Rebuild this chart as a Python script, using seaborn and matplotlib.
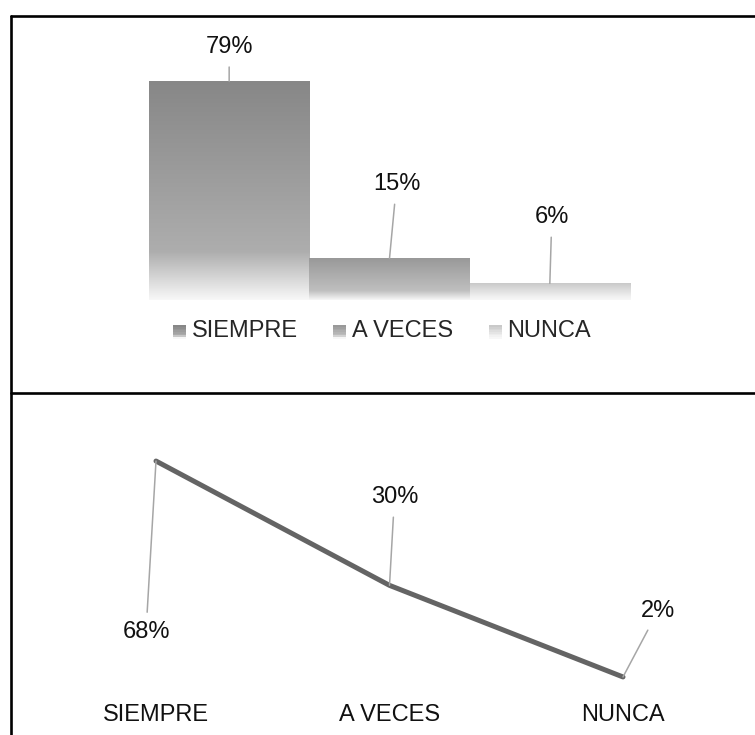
import numpy as np
import pandas as pd
import matplotlib
matplotlib.use("Agg")
import matplotlib.pyplot as plt
from matplotlib.lines import Line2D
from matplotlib.patches import Rectangle
from matplotlib.legend_handler import HandlerBase
import seaborn as sns

# data
categorias = ["SIEMPRE", "A VECES", "NUNCA"]
barras_pct = [79, 15, 6]
linea_pct = [68, 30, 2]

# gray level at the top of each bar (0-1)
tono_barra = [0.53, 0.60, 0.79]

sns.set_theme(style="white")
plt.rcParams["font.family"] = ["Liberation Sans", "DejaVu Sans"]

W, H = 755, 735
fig = plt.figure(figsize=(W / 100, H / 100), dpi=100)


def gradiente(base, n=200):
    """top -> bottom gray ramp like the office fill"""
    t = np.linspace(0, 1, n)
    mid = min(base + 0.15, 0.95)
    g = np.where(t < 0.78, base + (mid - base) * t / 0.78,
                 mid + (0.97 - mid) * (t - 0.78) / 0.22)
    return np.dstack([g, g, g]).reshape(n, 1, 3)


class HandlerGrad(HandlerBase):
    def __init__(self, base):
        super().__init__()
        self.base = base

    def create_artists(self, legend, orig, xd, yd, width, height, fontsize, trans):
        arts = []
        n = 8
        g = gradiente(self.base, n)[:, 0, 0]
        for i in range(n):
            r = Rectangle((xd, yd + height * (n - 1 - i) / n), width, height / n,
                          facecolor=(g[i],) * 3, edgecolor="none", transform=trans)
            arts.append(r)
        return arts


# ---------- top panel: bars ----------
ax1 = fig.add_axes([149 / W, (H - 300) / H, 481 / W, 221.6 / H])
df_b = pd.DataFrame({"cat": categorias, "pct": barras_pct})
sns.barplot(data=df_b, x="cat", y="pct", hue="cat", palette=[(b,) * 3 for b in tono_barra],
            width=1.0, legend=False, ax=ax1, saturation=1)

for patch, base in zip(ax1.patches, tono_barra):
    x0, w, h = patch.get_x(), patch.get_width(), patch.get_height()
    im = ax1.imshow(gradiente(base), extent=[x0, x0 + w, 0, h], aspect="auto",
                    origin="upper", zorder=patch.get_zorder() + 0.1)
    im.set_clip_path(patch)
    patch.set_edgecolor("none")

ax1.set_xlim(-0.5, 2.5)
ax1.set_ylim(0, 80)
ax1.axis("off")

off_barras = [(0, 34), (7, 74), (2, 66)]
for i, (v, off) in enumerate(zip(barras_pct, off_barras)):
    ax1.annotate(f"{v}%", xy=(i, v), xytext=off, textcoords="offset pixels",
                 ha="center", va="center", fontsize=17, color="#111111",
                 arrowprops=dict(arrowstyle="-", color="#a6a6a6", lw=1.1,
                                 shrinkA=4, shrinkB=0))

handles = [Rectangle((0, 0), 1, 1) for _ in categorias]
fig.legend(handles, categorias, loc="center", bbox_to_anchor=(382 / W, 1 - 331 / H),
           ncol=3, frameon=False, fontsize=17, handlelength=0.55, handleheight=0.5,
           handletextpad=0.25, columnspacing=1.5,
           handler_map={h: HandlerGrad(b) for h, b in zip(handles, tono_barra)})

# ---------- bottom panel: line ----------
ax2 = fig.add_axes([39.25 / W, (H - 683.5) / H, 700.5 / W, 229 / H])
df_l = pd.DataFrame({"cat": categorias, "pct": linea_pct})
sns.lineplot(data=df_l, x="cat", y="pct", color="#646464", lw=3.6,
             solid_capstyle="round", ax=ax2)
ax2.set_xlim(-0.5, 2.5)
ax2.set_ylim(0, 70)
for s in ax2.spines.values():
    s.set_visible(False)
ax2.set_yticks([])
ax2.set_xlabel("")
ax2.set_ylabel("")
ax2.tick_params(axis="x", length=0, pad=15, labelsize=17, labelcolor="#111111")

off_linea = [(-10, -171), (5, 88), (35, 66)]
for i, (v, off) in enumerate(zip(linea_pct, off_linea)):
    ax2.annotate(f"{v}%", xy=(i, v), xytext=off, textcoords="offset pixels",
                 ha="center", va="center", fontsize=17, color="#111111",
                 arrowprops=dict(arrowstyle="-", color="#a6a6a6", lw=1.1,
                                 shrinkA=4, shrinkB=0))

# ---------- frame lines ----------
xl = 10.5 / W
for art in [Line2D([xl, xl], [0, 1 - 16 / H]),
            Line2D([xl, 1], [1 - 16 / H, 1 - 16 / H]),
            Line2D([xl, 1], [1 - 393 / H, 1 - 393 / H])]:
    art.set_color("black")
    art.set_linewidth(1.9)
    art.set_transform(fig.transFigure)
    fig.add_artist(art)

fig.savefig("out.png", dpi=100, facecolor="white")
